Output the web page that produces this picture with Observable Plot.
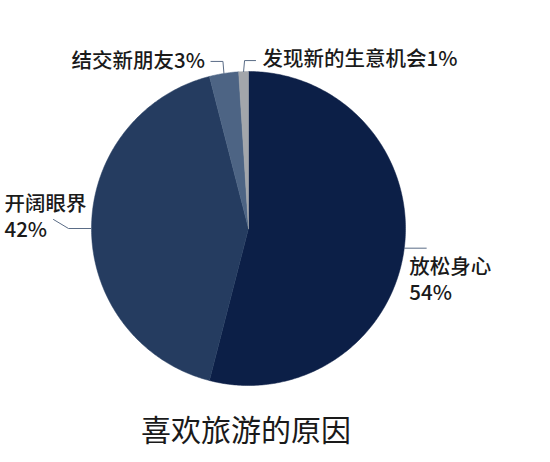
<!DOCTYPE html>
<html>
<head>
<meta charset="utf-8">
<script src="https://cdn.jsdelivr.net/npm/d3@7"></script>
<script src="https://cdn.jsdelivr.net/npm/@observablehq/plot@0.6"></script>
<style>
  html, body { margin: 0; padding: 0; background: #fff; }
  #chart svg { display: block; }
  #title { width: 550px; box-sizing: border-box; padding-right: 58px; text-align: center;
           font-family: "Noto Sans CJK SC", sans-serif; font-size: 30px; font-weight: 400; line-height: 56px; height: 56px; color: #1a1a1a; }
</style>
</head>
<body>
<div id="chart"></div>
<div id="title">喜欢旅游的原因</div>
<script>
// ---- data ----
const categories = ["放松身心", "开阔眼界", "结交新朋友", "发现新的生意机会"];
const values = [54, 42, 3, 1];
const colors = ["#0c1f47", "#253c60", "#4d6484", "#a3a6ab"];

// ---- layout ----
const W = 550, H = 400;
const cx = 248, cy = 228, R = 157;
const lineGap = 26;
// leader line shapes (relative offsets) and label placement per slice
const leaders = [
  {path: [[22, 0]], dx: -17, dy: 20, anchor: "start", split: true},
  {path: [[-23, 0], [-38, -9]], dx: -49, dy: -15, anchor: "start", split: true},
  {path: [[-1, -12], [-13, -12]], dx: -6, dy: 0, anchor: "end", split: false},
  {path: [[1, -11], [12, -11]], dx: 7, dy: -1, anchor: "start", split: false}
];

const pie = d3.pie().sort(null).value(d => d)(values);

// slice polygons
const slicePts = [];
pie.forEach((p, i) => {
  slicePts.push({x: cx, y: cy, k: i, c: colors[i]});
  const n = Math.max(4, Math.ceil((p.endAngle - p.startAngle) * 80));
  for (let j = 0; j <= n; j++) {
    const a = p.startAngle + (p.endAngle - p.startAngle) * j / n;
    slicePts.push({x: cx + R * Math.sin(a), y: cy - R * Math.cos(a), k: i, c: colors[i]});
  }
  slicePts.push({x: cx, y: cy, k: i, c: colors[i]});
});

// leader lines and labels
const leaderPts = [];
const labels = [];
pie.forEach((p, i) => {
  const a = (p.startAngle + p.endAngle) / 2;
  const x0 = cx + R * Math.sin(a), y0 = cy - R * Math.cos(a);
  leaderPts.push({x: x0, y: y0, k: i});
  let last = [x0, y0];
  leaders[i].path.forEach(([ox, oy]) => { last = [x0 + ox, y0 + oy]; leaderPts.push({x: last[0], y: last[1], k: i}); });
  const L = leaders[i];
  const lines = L.split ? [categories[i], values[i] + "%"] : [categories[i] + values[i] + "%"];
  lines.forEach((t, j) => labels.push({x: last[0] + L.dx, y: last[1] + L.dy + j * lineGap - (L.split ? 0.5 : 0), text: t, anchor: L.anchor}));
});

const fontFamily = '"Noto Sans CJK SC", sans-serif';

const chart = Plot.plot({
  width: W, height: H,
  margin: 0,
  style: {background: "#fff", fontFamily},
  x: {type: "linear", domain: [0, W], range: [0, W], axis: null},
  y: {type: "linear", domain: [0, H], range: [0, H], axis: null},
  color: {type: "identity"},
  marks: [
    Plot.line(slicePts, {x: "x", y: "y", z: "k", fill: "c", stroke: "c", strokeWidth: 0.5, curve: "linear"}),
    Plot.line(leaderPts, {x: "x", y: "y", z: "k", stroke: "#5a6c86", strokeWidth: 1}),
    Plot.text(labels.filter(d => d.anchor === "start"), {x: "x", y: "y", text: "text", textAnchor: "start",
      fontSize: 20.5, fontWeight: 500, fill: "#1a1a1a", fontFamily}),
    Plot.text(labels.filter(d => d.anchor === "end"), {x: "x", y: "y", text: "text", textAnchor: "end",
      fontSize: 20.5, fontWeight: 500, fill: "#1a1a1a", fontFamily})
  ]
});
document.getElementById("chart").appendChild(chart);
</script>
</body>
</html>
